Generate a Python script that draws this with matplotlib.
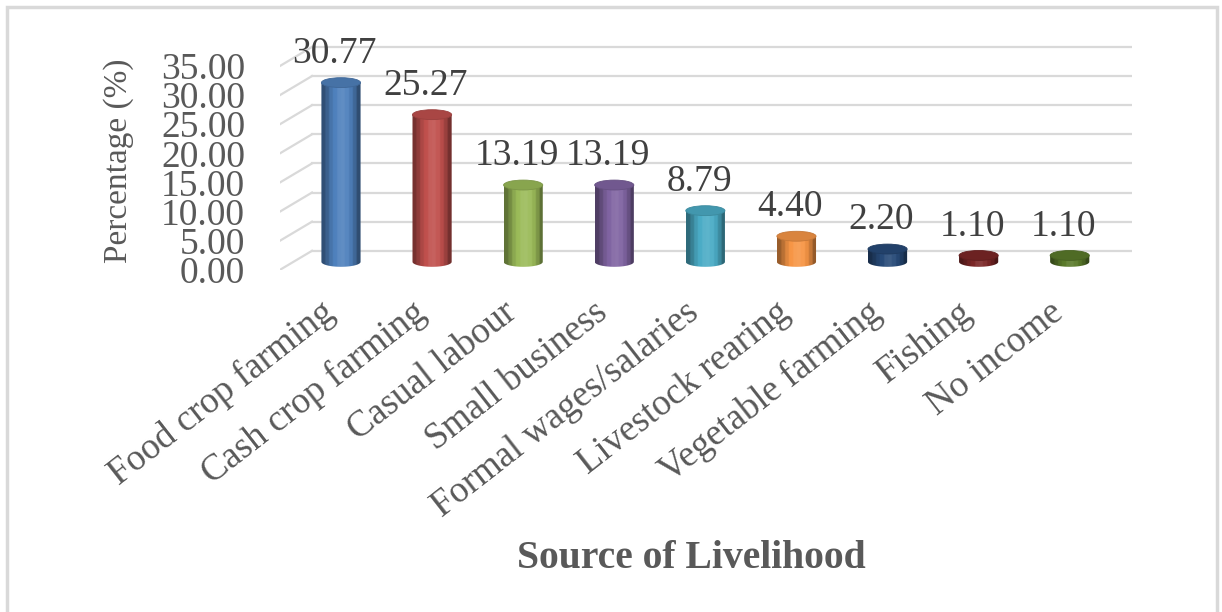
import numpy as np
import matplotlib.pyplot as plt
from matplotlib.patches import Ellipse, Rectangle, Path, PathPatch
from matplotlib.colors import to_rgb, ListedColormap
from matplotlib.transforms import ScaledTranslation

# categories and percentages
sources = ["Food crop farming", "Cash crop farming", "Casual labour", "Small business",
           "Formal wages/salaries", "Livestock rearing", "Vegetable farming", "Fishing", "No income"]
percent = [30.77, 25.27, 13.19, 13.19, 8.79, 4.40, 2.20, 1.10, 1.10]
colors = ["#4f81bd", "#c0504d", "#9bbb59", "#8064a2", "#4bacc6", "#f79646",
          "#274a78", "#7b2727", "#5a7a2a"]
yticks = [0, 5, 10, 15, 20, 25, 30, 35]

grey = "#595959"
plt.rcParams["font.family"] = ["Liberation Serif", "DejaVu Serif"]

fig = plt.figure(figsize=(12.22, 6.12), dpi=100)
fig.patches.append(Rectangle((7 / 1222, -0.05), 1210 / 1222, 1.05 - 7 / 612,
                             transform=fig.transFigure, fill=False,
                             edgecolor="#d9d9d9", linewidth=2.5))

ax = fig.add_axes([0.2291, 0.5588, 0.6972, 0.375])

# perspective offsets of the floor / back wall
front_x, back_x, right_x = -0.670, -0.318, 8.683
front_dy, back_dy = -1.37, 1.9

for v in yticks:
    ax.plot([back_x, right_x], [v + back_dy, v + back_dy], color="#d9d9d9", lw=1.6, zorder=1)
    ax.plot([front_x, back_x], [v + front_dy, v + back_dy], color="#d9d9d9", lw=1.6, zorder=1)

w = 0.43   # cylinder width
eh = 1.7   # ellipse height

profile = np.array([0.62, 0.75, 0.9, 1.0, 1.08, 1.1, 1.05, 0.95, 0.8, 0.6])
for i, (v, c) in enumerate(zip(percent, colors)):
    base = np.array(to_rgb(c))
    shades = []
    for s in profile:
        if s <= 1:
            shades.append(base * s)
        else:
            shades.append(base + (1 - base) * (s - 1))
    cmap = ListedColormap(np.clip(shades, 0, 1))
    grad = np.linspace(0, 1, 64).reshape(1, -1)

    x0, x1 = i - w / 2, i + w / 2
    # body outline: straight sides, rounded bottom
    t = np.linspace(np.pi, 2 * np.pi, 40)
    bottom = np.column_stack([i + w / 2 * np.cos(t), eh / 2 * np.sin(t)])
    verts = np.vstack([[x0, v], bottom, [x1, v], [x0, v]])
    body = PathPatch(Path(verts), facecolor="none", edgecolor="none")
    ax.add_patch(body)
    im = ax.imshow(grad, cmap=cmap, extent=(x0, x1, -eh / 2, v), aspect="auto",
                   interpolation="bicubic", zorder=2)
    im.set_clip_path(body)
    top_col = np.clip(base * 0.88, 0, 1)
    ax.add_patch(Ellipse((i, v), w, eh, facecolor=top_col, edgecolor=np.clip(base * 0.8, 0, 1),
                         lw=0.6, zorder=3))
    ax.text(i - 0.07, v + 5.0, f"{v:.2f}", ha="center", va="center",
            fontsize=27, color="#404040", zorder=4)

ax.set_xlim(front_x, right_x)
ax.set_ylim(-1.4, 38.0)
ax.set_xticks(range(len(sources)))
ax.set_xticklabels([])

# slanted category names, hung just below the floor
lab_tr = ax.get_xaxis_transform() + ScaledTranslation(-0.21, -0.25, fig.dpi_scale_trans)
for i, name in enumerate(sources):
    ax.text(i, 0, name, transform=lab_tr, rotation=38, ha="right", va="top",
            rotation_mode="anchor", fontsize=26.5, color=grey, clip_on=False)

ax.set_yticks([v + front_dy for v in yticks])
ax.set_yticklabels([f"{v:.2f}" for v in yticks], fontsize=27, color=grey)
ax.tick_params(axis="x", length=0)
ax.tick_params(axis="y", length=0, pad=25)
for sp in ax.spines.values():
    sp.set_visible(False)

fig.text(119 / 1222, 1 - 161 / 612, "Percentage (%)", rotation=90, ha="center", va="center",
         fontsize=24, color=grey)
fig.text(691 / 1222, 1 - 559 / 612, "Source of Livelihood", ha="center", va="center",
         fontsize=28.5, fontweight="bold", color=grey)

fig.savefig("out.png", dpi=100)
